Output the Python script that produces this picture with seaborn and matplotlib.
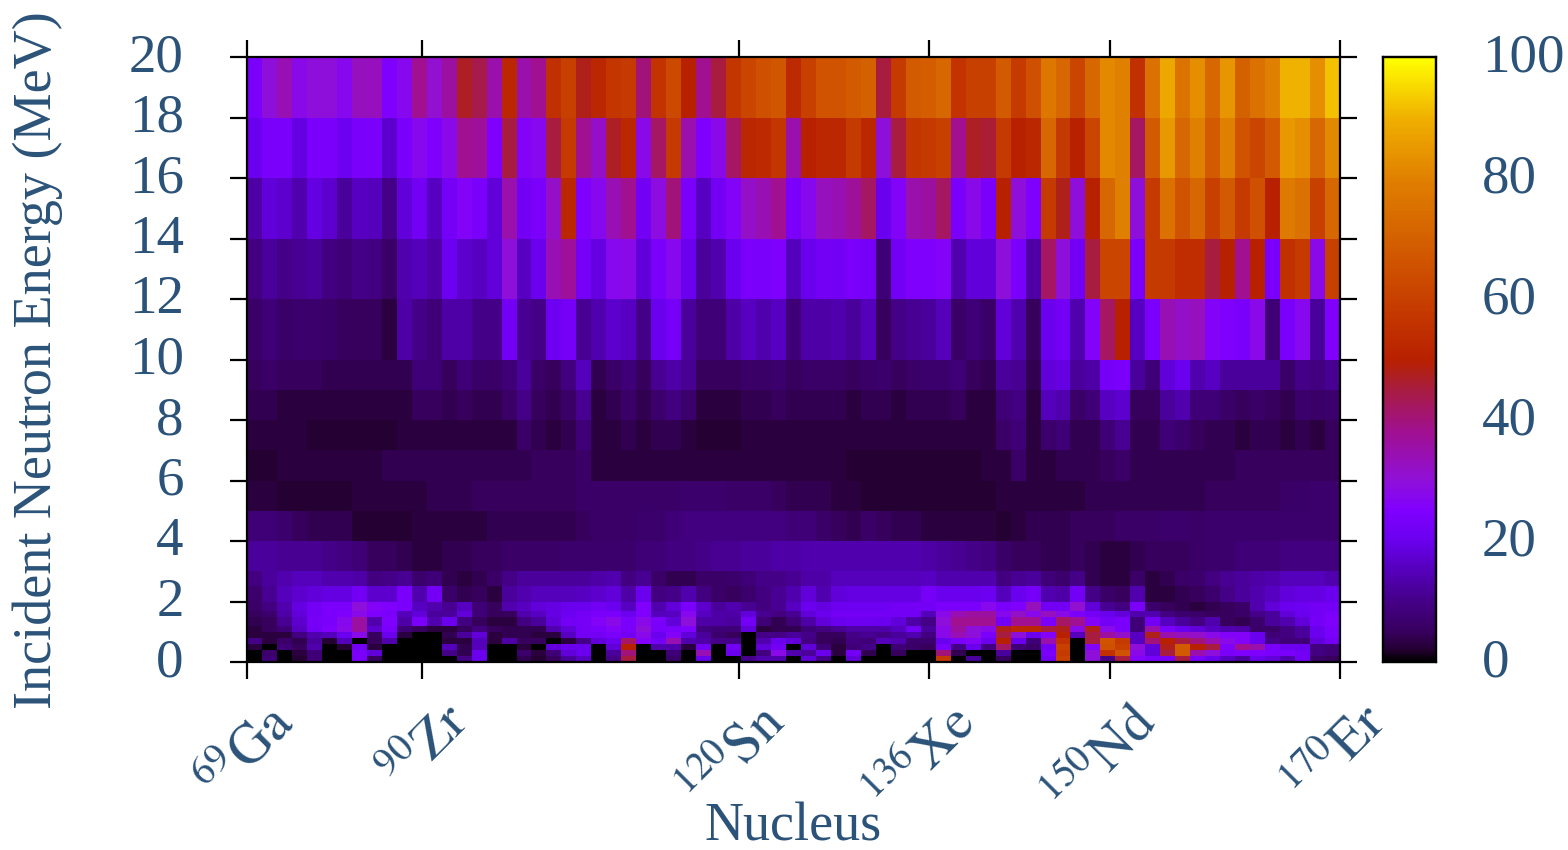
#Neutron cross section map, ratio in percent per nucleus and energy bin

import numpy as np
import pandas as pd
import matplotlib
matplotlib.use("Agg")
import matplotlib.pyplot as plt
from matplotlib.colors import LinearSegmentedColormap
from matplotlib.transforms import ScaledTranslation
import seaborn as sns

# energy bin edges in MeV
energy_edges = [0, 0.2, 0.4, 0.6, 0.8, 1.0, 1.2, 1.5, 1.7, 2.0, 2.5, 3, 4, 5, 6, 7, 8, 9, 10, 12, 14, 16, 18, 20]

# one list per energy bin, low energy first
e_00_02 = [0,8,0,2,8,0,0,24,5,0,0,0,0,0,10,20,0,0,4,2,5,12,16,0,10,
           45,0,0,6,0,20,0,0,10,14,14,0,18,10,0,18,0,0,0,0,0,58,0,12,
           0,5,0,0,22,60,0,30,10,45,26,24,24,45,24,20,16,12,20,18,14,22,6,5]
e_02_04 = [0,7,0,3,8,0,0,24,18,0,0,0,0,10,4,20,0,0,7,3,8,18,20,0,12,
           40,0,0,8,0,34,0,20,0,9,28,14,12,20,3,22,4,0,5,0,0,40,4,0,
           0,12,0,0,24,58,0,30,55,66,28,18,45,68,35,30,24,25,25,24,24,22,9,8]
e_04_06 = [3,0,8,5,14,0,2,22,3,0,0,0,0,15,4,15,0,0,3,0,18,20,20,0,18,
           50,0,14,14,3,22,0,22,0,18,22,0,18,8,3,8,10,0,8,6,5,24,10,20,
           9,42,8,6,22,60,0,26,65,60,30,18,48,68,50,45,25,38,35,24,21,20,9,8]
e_06_08 = [10,3,6,4,12,2,15,0,5,14,0,0,0,3,3,15,3,13,5,5,0,3,10,18,20,
           42,26,22,34,14,13,10,10,0,14,20,18,9,5,4,9,8,15,14,7,7,20,24,26,
           20,50,20,8,35,55,0,45,66,58,16,40,50,45,40,34,28,26,20,10,8,8,18,22]
e_08_10 = [3,3,3,9,14,15,20,28,5,20,3,0,0,4,12,18,3,4,4,3,3,16,22,22,24,
           22,28,20,26,18,12,7,5,0,10,10,12,10,5,5,10,11,10,12,14,9,28,34,30,
           24,45,30,20,26,50,15,45,36,32,16,48,35,33,32,28,26,26,20,8,9,12,20,24]
e_10_12 = [3,5,8,16,22,25,28,36,17,24,8,5,3,3,5,9,5,4,4,4,14,18,22,24,26,
           24,30,24,24,25,9,8,8,18,3,4,4,8,9,11,13,13,13,16,22,12,28,36,30,
           28,48,52,52,45,48,28,48,28,24,8,35,24,20,18,16,14,13,6,6,9,12,20,24]
e_12_15 = [4,5,11,17,23,24,27,36,14,25,13,24,14,20,9,5,3,3,9,12,18,22,23,26,28,
           24,28,24,18,30,13,13,12,22,8,4,8,13,18,20,21,21,20,18,13,10,30,38,38,
           38,22,38,38,24,42,38,26,22,24,8,22,16,12,9,14,5,4,7,12,14,18,23,25]
e_15_17 = [5,7,13,18,22,24,25,28,25,24,15,18,12,12,18,8,5,5,14,16,19,21,22,24,24,
           20,25,15,16,27,16,13,13,18,11,9,11,18,20,22,22,22,22,22,22,15,28,34,36,
           36,27,32,27,33,28,24,22,20,18,14,14,9,7,6,5,5,6,10,12,18,20,22,24]
e_17_20 = [6,9,14,19,22,24,24,30,26,25,24,16,14,11,16,8,5,14,16,18,19,20,20,22,20,
           16,25,14,18,24,17,12,14,11,9,11,16,20,19,21,21,21,21,22,22,22,24,24,24,
           27,24,25,33,22,22,31,18,11,9,24,7,5,4,3,4,5,6,14,18,20,21,22,22]
e_20_25 = [7,11,15,17,18,19,19,22,17,17,24,14,22,6,4,5,3,12,14,15,15,15,16,17,18,
           13,20,9,10,14,9,6,5,7,9,11,14,18,14,18,19,19,19,19,19,23,20,20,20,
           21,15,20,23,14,13,22,10,6,5,14,3,3,4,5,7,10,12,14,16,18,19,19,20]
e_25_30 = [9,12,14,15,15,14,14,13,9,10,11,7,8,4,3,4,6,10,12,12,12,12,12,13,14,
           9,11,6,4,4,6,6,7,8,10,10,11,13,13,15,15,15,15,15,15,16,14,14,14,
           14,9,11,12,8,7,10,4,3,3,6,3,4,6,7,9,11,12,13,14,15,15,15,14]
e_30_40 = [12,12,11,11,11,10,9,8,5,5,4,3,3,4,4,5,5,6,6,6,6,7,7,7,7,
           7,8,8,9,9,10,11,11,12,12,13,13,14,14,14,14,14,14,14,14,13,12,11,10,
           9,6,5,5,4,4,5,4,3,3,4,5,5,5,6,7,7,8,8,8,9,9,9,9]
e_40_50 = [8,8,7,5,4,4,4,2,2,2,2,3,3,3,3,3,4,4,4,4,4,4,5,6,6,
           6,7,7,8,9,9,9,9,9,9,9,8,8,6,5,4,6,5,4,4,3,3,3,3,
           3,2,3,4,4,4,5,5,5,6,6,6,7,7,6,7,7,7,7,7,7,7,7,7]
e_50_60 = [3,3,2,2,2,2,2,3,3,3,3,3,4,4,4,5,5,5,5,5,5,5,6,6,6,
           6,6,6,6,7,7,7,6,6,6,5,4,4,4,3,3,2,2,2,2,2,2,2,2,
           2,3,3,3,3,3,3,4,4,4,4,4,4,4,4,5,5,5,5,5,6,6,7,7]
e_60_70 = [2,2,3,3,3,3,3,3,3,4,4,4,4,4,4,4,4,4,4,5,5,5,6,3,3,
           3,3,3,3,3,3,3,3,3,3,3,3,3,3,3,2,2,2,2,2,2,2,2,2,
           3,3,6,3,3,4,4,4,5,6,4,4,4,4,4,4,4,5,5,5,5,5,5,5]
e_70_80 = [3,3,3,3,2,2,2,2,2,2,3,3,3,3,3,3,3,3,6,4,3,4,8,3,3,
           4,3,4,4,3,2,2,2,3,3,3,3,3,3,3,3,3,3,3,3,3,3,3,3,
           3,6,8,3,7,8,4,4,8,11,4,4,8,7,5,4,4,3,4,4,3,4,3,5]
e_80_90 = [4,4,3,3,3,3,3,3,3,3,3,5,5,4,5,4,4,6,10,5,4,6,11,3,4,
           6,4,7,9,7,3,3,3,4,4,5,4,4,4,4,3,4,4,3,4,4,4,5,3,
           3,8,9,3,15,14,6,8,16,17,5,5,12,14,8,8,6,5,6,5,4,7,6,7]
e_90_100 = [5,6,5,5,5,4,4,4,4,4,4,8,8,5,8,6,6,8,12,6,5,9,15,4,6,
            8,5,11,13,11,5,5,5,6,6,7,5,6,6,6,5,6,7,5,6,7,7,8,5,
            4,12,11,4,18,19,12,13,23,24,12,8,18,20,14,16,12,12,12,12,6,10,9,11]
e_10_12mev = [6,8,6,7,7,6,5,5,5,3,13,10,8,13,13,10,10,22,11,10,21,23,11,14,17,
              16,10,20,23,12,8,8,13,16,14,16,8,13,13,14,12,15,5,10,11,12,15,6,8,
              6,18,14,5,20,22,14,26,42,50,16,24,34,32,33,26,25,24,28,8,24,27,12,25]
e_12_14mev = [9,12,10,11,12,9,8,10,9,6,14,15,13,21,17,16,18,30,16,20,34,37,23,19,27,
              28,18,24,27,20,12,14,20,24,24,25,15,20,22,22,24,23,8,22,25,25,26,14,18,
              18,30,24,13,42,30,22,45,62,62,24,58,58,54,54,45,50,38,50,24,55,58,28,60]
e_14_16mev = [13,18,17,14,19,17,12,16,15,10,18,22,16,23,26,24,18,35,22,24,32,52,25,27,34,
              38,22,29,40,24,16,22,26,32,34,38,24,27,33,34,37,42,20,26,35,36,42,24,28,
              24,50,30,25,58,48,30,50,72,80,30,58,75,66,72,60,68,58,65,50,78,75,60,72]
e_16_18mev = [20,24,24,19,24,24,21,24,24,17,24,27,25,28,38,37,25,45,26,27,45,58,38,32,47,
              52,28,42,58,35,25,28,42,52,53,57,35,50,52,52,58,52,30,45,57,58,60,38,47,
              46,58,50,52,72,58,50,62,82,80,42,68,85,72,80,68,80,66,62,68,85,83,72,82]
e_18_20mev = [24,30,34,28,30,30,27,33,33,25,27,38,31,36,47,44,35,52,35,38,55,60,48,52,57,
              58,40,56,63,50,38,45,57,62,65,67,53,60,66,66,68,70,45,58,68,69,72,56,60,
              60,68,58,65,77,72,62,72,82,80,55,75,88,76,83,72,84,70,75,80,90,90,83,92]

rows = [e_00_02, e_02_04, e_04_06, e_06_08, e_08_10, e_10_12, e_12_15, e_15_17, e_17_20,
        e_20_25, e_25_30, e_30_40, e_40_50, e_50_60, e_60_70, e_70_80, e_80_90, e_90_100,
        e_10_12mev, e_12_14mev, e_14_16mev, e_16_18mev, e_18_20mev]

# ticks
nucleus_labels = [r"$^{69}\mathrm{Ga}$", r"$^{90}\mathrm{Zr}$", r"$^{120}\mathrm{Sn}$",
                  r"$^{136}\mathrm{Xe}$", r"$^{150}\mathrm{Nd}$", r"$^{170}\mathrm{Er}$"]
nucleus_cols = [0, 11.7, 32.85, 45.55, 57.65, 73]
energy_ticks = [0, 2, 4, 6, 8, 10, 12, 14, 16, 18, 20]
cbar_ticks = [0, 20, 40, 60, 80, 100]

text_color = "#2b5278"

palette = LinearSegmentedColormap.from_list("pm3d", [
    (0.00, "#000000"), (0.02, "#260034"), (0.05, "#380060"), (0.10, "#440088"),
    (0.15, "#5500bb"), (0.20, "#6a00ee"), (0.25, "#8000ff"), (0.30, "#9010d8"),
    (0.38, "#a01090"), (0.45, "#a81c40"), (0.48, "#b02018"), (0.50, "#b82000"),
    (0.60, "#c84000"), (0.80, "#e08000"), (0.90, "#f0b000"), (1.00, "#ffff00")])

sns.set_theme(style="white")
plt.rcParams["font.family"] = ["Liberation Serif", "DejaVu Serif"]
plt.rcParams["mathtext.fontset"] = "stix"
plt.rcParams["text.color"] = text_color

# seaborn only knows equal cells, so repeat each bin on a 0.1 MeV grid
step = 0.1
repeats = np.rint(np.diff(energy_edges) / step).astype(int)
grid = np.repeat(np.array(rows, dtype=float), repeats, axis=0)
df = pd.DataFrame(grid)

fig = plt.figure(figsize=(15.68, 8.5), dpi=100)
ax = fig.add_axes([247 / 1568, 1 - 662 / 850, (1340 - 247) / 1568, (662 - 57) / 850])
cax = fig.add_axes([1383 / 1568, 1 - 662 / 850, (1436 - 1383) / 1568, (662 - 57) / 850])

sns.heatmap(df, ax=ax, cbar_ax=cax, cmap=palette, vmin=0, vmax=100,
            xticklabels=False, yticklabels=False, rasterized=True,
            cbar_kws={"ticks": cbar_ticks})
ax.invert_yaxis()

ax.set_xticks(nucleus_cols)
ax.set_xticklabels(nucleus_labels, rotation=45, ha="right", rotation_mode="anchor",
                   fontsize=40, color=text_color)
ax.set_yticks([e / step for e in energy_ticks])
ax.set_yticklabels(energy_ticks, rotation=0, fontsize=39.5, color=text_color)
ax.tick_params(axis="both", which="major", direction="out", length=12.5, width=1.6,
               color="black", top=True, right=True, bottom=True, left=True)
ax.tick_params(axis="y", pad=33)
ax.tick_params(axis="x", pad=12)

for s in ax.spines.values():
    s.set_visible(True)
    s.set_color("black")
    s.set_linewidth(1.6)

fig.text(793 / 1568, 1 - 827 / 850, "Nucleus", ha="center", va="center",
         fontsize=39, color=text_color)
fig.text(38 / 1568, 1 - 360 / 850, "Incident Neutron Energy (MeV)", ha="center", va="center",
         rotation=90, fontsize=39, color=text_color)

cax.tick_params(axis="y", direction="in", length=10, width=1.4, color="black",
                left=True, right=True, pad=33, labelsize=39.5, labelcolor=text_color)
for s in cax.spines.values():
    s.set_visible(True)
    s.set_color("black")
    s.set_linewidth(1.6)

# nudge the tick labels to where the original has them
up = ScaledTranslation(0, 3.6 / 72, fig.dpi_scale_trans)
for label in ax.get_yticklabels() + cax.get_yticklabels():
    label.set_transform(label.get_transform() + up)
right = ScaledTranslation(14.5 / 72, 0, fig.dpi_scale_trans)
for label in ax.get_xticklabels():
    label.set_transform(label.get_transform() + right)

fig.savefig("out.png", dpi=100)
